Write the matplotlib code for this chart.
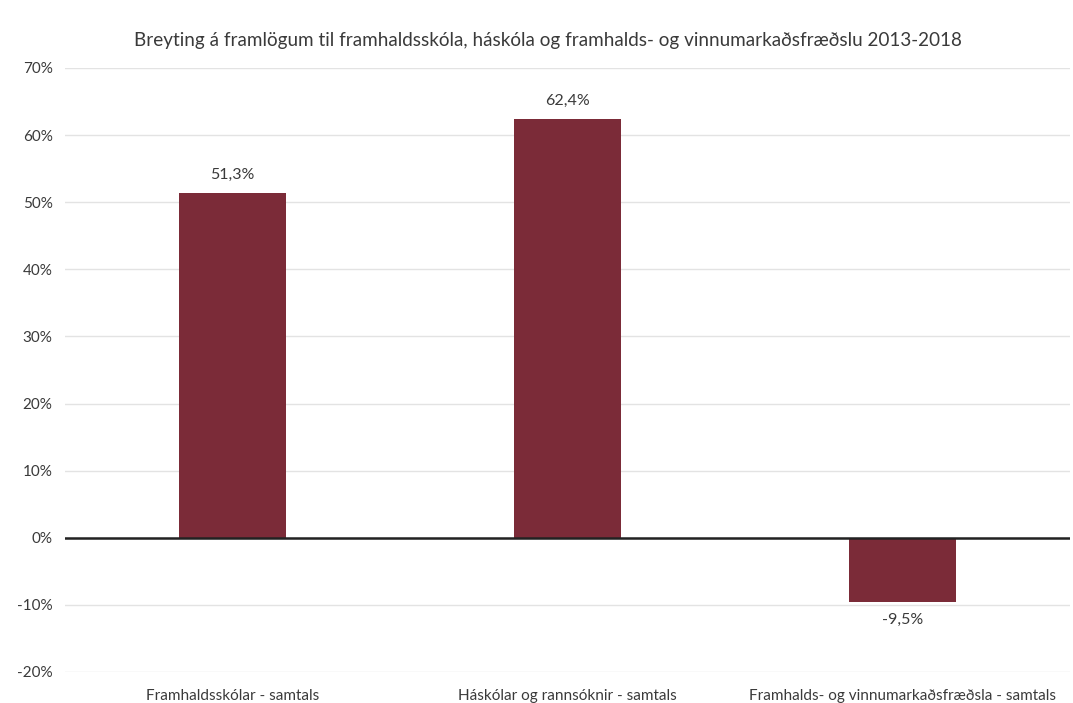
import numpy as np
import matplotlib.pyplot as plt
from matplotlib.ticker import FuncFormatter

categories = ['Framhaldsskólar - samtals',
              'Háskólar og rannsóknir - samtals',
              'Framhalds- og vinnumarkaðsfræðsla - samtals']
values = [51.3, 62.4, -9.5]
title = 'Breyting á framlögum til framhaldsskóla, háskóla og framhalds- og vinnumarkaðsfræðslu 2013-2018'

plt.rcParams['font.family'] = ['Lato', 'DejaVu Sans']
txt = '#3A3A3A'

fig = plt.figure(figsize=(10.73, 7.03), dpi=100)
ax = fig.add_axes([0.0606, 0.0441, 0.9364, 0.8592])

x = np.arange(len(categories))
ax.bar(x, values, width=0.32, color='#7B2B38', zorder=3)

ax.set_ylim(-20, 70)
ax.set_xlim(-0.5, 2.5)
ax.set_yticks(np.arange(-20, 71, 10))
ax.yaxis.set_major_formatter(FuncFormatter(lambda v, p: f'{v:.0f}%'))
ax.grid(axis='y', color='#E3E3E3', linewidth=1, zorder=0)
ax.axhline(0, color='#222222', linewidth=1.8, zorder=4)

ax.set_xticks(x)
ax.set_xticklabels(categories, fontsize=11, color=txt)
ax.tick_params(axis='x', length=0, pad=12)
ax.tick_params(axis='y', length=0, pad=9, labelsize=11, labelcolor=txt)
for s in ax.spines.values():
    s.set_visible(False)

for xi, v in zip(x, values):
    lab = f'{v:.1f}%'.replace('.', ',')
    if v >= 0:
        ax.annotate(lab, (xi, v), xytext=(0, 8), textcoords='offset points',
                    ha='center', va='bottom', fontsize=11.5, color=txt)
    else:
        ax.annotate(lab, (xi, v), xytext=(0, -8), textcoords='offset points',
                    ha='center', va='top', fontsize=11.5, color=txt)

fig.text(0.511, 0.943, title, ha='center', va='center', fontsize=13.6, color=txt)

fig.savefig('out.png', dpi=100)
